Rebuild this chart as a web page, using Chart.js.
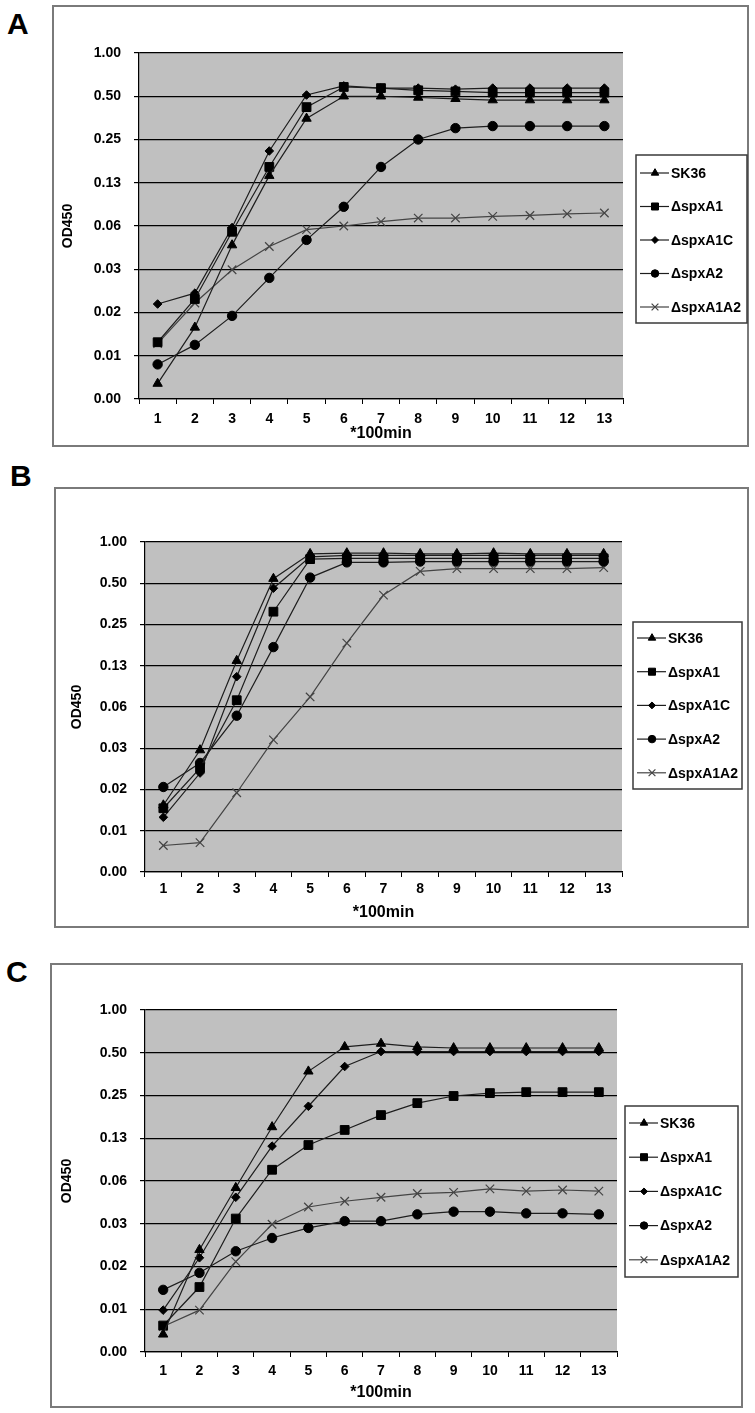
<!DOCTYPE html>
<html>
<head>
<meta charset="utf-8">
<script src="https://cdn.jsdelivr.net/npm/chart.js@4.4.1/dist/chart.umd.min.js"></script>
<style>
  body { margin: 0; background: #fff; width: 755px; height: 1413px; position: relative; overflow: hidden; }
  .letter { position: absolute; font: bold 30px "Liberation Sans", Arial, sans-serif; line-height: 30px; color: #000; }
  canvas { position: absolute; }
</style>
</head>
<body>
<div class="letter" style="left:7px;top:9px">A</div>
<div class="letter" style="left:10px;top:461px">B</div>
<div class="letter" style="left:6px;top:957px">C</div>
<canvas id="chartA" width="697" height="442" style="left:52px;top:5px;width:697px;height:442px"></canvas>
<canvas id="chartB" width="695" height="441" style="left:54px;top:487px;width:695px;height:441px"></canvas>
<canvas id="chartC" width="693" height="445" style="left:50px;top:963px;width:693px;height:445px"></canvas>
<script>
// time points (x100 min) and series names
var timePoints = ['1', '2', '3', '4', '5', '6', '7', '8', '9', '10', '11', '12', '13'];
var seriesNames = ['SK36', 'ΔspxA1', 'ΔspxA1C', 'ΔspxA2', 'ΔspxA1A2'];

// log2 y axis, labels as printed in the figure
var yTickValues = [1/256, 1/128, 1/64, 1/32, 1/16, 1/8, 1/4, 1/2, 1];
var yTickLabels = ['0.00', '0.01', '0.02', '0.03', '0.06', '0.13', '0.25', '0.50', '1.00'];

// panel A
var sk36A    = [0.0050, 0.0123, 0.046, 0.14, 0.35, 0.50, 0.50, 0.49, 0.48, 0.47, 0.47, 0.47, 0.47];
var spxA1A   = [0.0097, 0.0194, 0.057, 0.161, 0.42, 0.58, 0.57, 0.55, 0.54, 0.53, 0.53, 0.53, 0.53];
var spxA1CA  = [0.0179, 0.0213, 0.061, 0.208, 0.51, 0.59, 0.57, 0.57, 0.56, 0.57, 0.57, 0.57, 0.57];
var spxA2A   = [0.0068, 0.0093, 0.0148, 0.0272, 0.050, 0.085, 0.161, 0.25, 0.30, 0.31, 0.31, 0.31, 0.31];
var spxA1A2A = [0.0095, 0.0182, 0.031, 0.045, 0.059, 0.0625, 0.067, 0.071, 0.071, 0.073, 0.074, 0.076, 0.077];

// panel B
var sk36B    = [0.0120, 0.0303, 0.136, 0.54, 0.82, 0.83, 0.83, 0.82, 0.82, 0.83, 0.82, 0.82, 0.82];
var spxA1B   = [0.0114, 0.0224, 0.070, 0.31, 0.75, 0.76, 0.76, 0.76, 0.76, 0.76, 0.76, 0.76, 0.76];
var spxA1CB  = [0.0098, 0.0206, 0.104, 0.46, 0.78, 0.80, 0.80, 0.80, 0.80, 0.80, 0.80, 0.80, 0.80];
var spxA2B   = [0.0163, 0.0244, 0.054, 0.171, 0.55, 0.71, 0.71, 0.72, 0.72, 0.72, 0.72, 0.72, 0.72];
var spxA1A2B = [0.0061, 0.0064, 0.0148, 0.036, 0.074, 0.183, 0.41, 0.61, 0.64, 0.64, 0.64, 0.64, 0.65];

// panel C
var sk36C    = [0.0052, 0.0205, 0.056, 0.150, 0.37, 0.55, 0.58, 0.55, 0.54, 0.54, 0.54, 0.54, 0.54];
var spxA1C   = [0.0060, 0.0112, 0.034, 0.075, 0.112, 0.143, 0.182, 0.221, 0.248, 0.26, 0.264, 0.264, 0.264];
var spxA1CC  = [0.0077, 0.018, 0.048, 0.110, 0.21, 0.40, 0.51, 0.51, 0.51, 0.51, 0.51, 0.51, 0.51];
var spxA2C   = [0.0107, 0.0141, 0.020, 0.0248, 0.0292, 0.0326, 0.0326, 0.0364, 0.038, 0.038, 0.037, 0.037, 0.0364];
var spxA1A2C = [0.0059, 0.0077, 0.0169, 0.031, 0.041, 0.045, 0.048, 0.051, 0.052, 0.055, 0.053, 0.054, 0.053];

var markers = [
  { pointStyle: 'triangle', radius: 5.4, fill: '#000', line: '#1e1e1e', bw: 1 },
  { pointStyle: 'rect',     radius: 6.2, fill: '#000', line: '#1e1e1e', bw: 1 },
  { pointStyle: 'rectRot',  radius: 4.3, fill: '#000', line: '#1e1e1e', bw: 1 },
  { pointStyle: 'circle',   radius: 4.7, fill: '#000', line: '#1e1e1e', bw: 1 },
  { pointStyle: 'crossRot', radius: 6,   fill: '#444', line: '#444', bw: 1.2 }
];

var FONT = '"Liberation Sans", Arial, sans-serif';

function makeDatasets(seriesList) {
  return seriesList.map(function (values, i) {
    var m = markers[i];
    return {
      label: seriesNames[i],
      data: values,
      borderColor: m.line,
      borderWidth: 1.2,
      tension: 0,
      fill: false,
      pointStyle: m.pointStyle,
      pointRadius: m.radius,
      pointHoverRadius: m.radius,
      pointBackgroundColor: m.fill,
      pointBorderColor: m.fill,
      pointBorderWidth: m.bw
    };
  });
}

// grey plot area and outer frame
var backdrop = {
  id: 'backdrop',
  beforeDraw: function (chart) {
    var ctx = chart.ctx, a = chart.chartArea;
    ctx.save();
    ctx.fillStyle = '#fff';
    ctx.fillRect(0, 0, chart.width, chart.height);
    ctx.fillStyle = '#c0c0c0';
    ctx.fillRect(a.left, a.top, a.right - a.left, a.bottom - a.top);
    ctx.strokeStyle = '#7a7a7a';
    ctx.lineWidth = 2;
    ctx.strokeRect(1, 1, chart.width - 2, chart.height - 2);
    ctx.restore();
  }
};

function boxLegend(g) {
  return {
    id: 'boxLegend',
    afterDraw: function (chart) {
      var ctx = chart.ctx;
      ctx.save();
      ctx.fillStyle = '#fff';
      ctx.fillRect(g.x, g.y, g.w, g.h);
      ctx.strokeStyle = '#3a3a3a';
      ctx.lineWidth = 1.5;
      ctx.strokeRect(g.x, g.y, g.w, g.h);
      chart.data.datasets.forEach(function (ds, i) {
        var cy = g.y + g.first + i * g.step;
        ctx.strokeStyle = ds.borderColor;
        ctx.lineWidth = 1.2;
        ctx.beginPath();
        ctx.moveTo(g.x + 4, cy);
        ctx.lineTo(g.x + 33, cy);
        ctx.stroke();
        ctx.fillStyle = ds.pointBackgroundColor;
        ctx.strokeStyle = ds.pointBorderColor;
        ctx.lineWidth = ds.pointBorderWidth;
        Chart.helpers.drawPoint(ctx, {
          pointStyle: ds.pointStyle, radius: ds.pointRadius * 0.8,
          borderWidth: ds.pointBorderWidth, rotation: 0
        }, g.x + 19, cy);
        ctx.fillStyle = '#000';
        ctx.font = 'bold 14px ' + FONT;
        ctx.textBaseline = 'middle';
        ctx.textAlign = 'left';
        ctx.fillText(ds.label, g.x + 35, cy + 1);
      });
      ctx.restore();
    }
  };
}

function drawPanel(id, seriesList, geom) {
  return new Chart(id, {
    type: 'line',
    data: { labels: timePoints, datasets: makeDatasets(seriesList) },
    plugins: [backdrop, boxLegend(geom.legend)],
    options: {
      responsive: false,
      animation: false,
      layout: { padding: { top: geom.top, right: geom.right, left: 0, bottom: 0 } },
      plugins: { legend: { display: false }, tooltip: { enabled: false } },
      scales: {
        x: {
          type: 'category',
          offset: true,
          grid: { offset: true, drawOnChartArea: false, color: '#000', tickLength: 5 },
          border: { color: '#000', width: 1.2 },
          ticks: { color: '#000', font: { family: FONT, size: 14, weight: 'bold' }, padding: geom.xPad, maxRotation: 0 },
          title: { display: true, text: '*100min', color: '#000',
                   font: { family: FONT, size: 16, weight: 'bold' }, padding: { top: 0, bottom: geom.xTitlePad } },
          afterFit: function (s) { s.height = geom.xh; }
        },
        y: {
          type: 'logarithmic',
          min: yTickValues[0],
          max: yTickValues[yTickValues.length - 1],
          afterBuildTicks: function (s) {
            s.ticks = yTickValues.map(function (v) { return { value: v }; });
          },
          grid: { color: '#000', lineWidth: 1.2, tickLength: 5 },
          border: { color: '#000', width: 1.2 },
          ticks: {
            autoSkip: false,
            color: '#000',
            padding: 13,
            font: { family: FONT, size: 14, weight: 'bold' },
            callback: function (v, i) { return yTickLabels[i]; }
          },
          title: { display: true, text: 'OD450', color: '#000',
                   font: { family: FONT, size: 14, weight: 'bold' }, padding: { top: geom.yTitlePad, bottom: 0 } },
          afterFit: function (s) { s.width = geom.yw; }
        }
      }
    }
  });
}

drawPanel('chartA', [sk36A, spxA1A, spxA1CA, spxA2A, spxA1A2A], {
  top: 48, right: 126, yw: 87, xh: 48, xPad: 7, xTitlePad: 4, yTitlePad: 7.6,
  legend: { x: 584, y: 150, w: 111, h: 168, first: 18, step: 33.5 }
});
drawPanel('chartB', [sk36B, spxA1B, spxA1CB, spxA2B, spxA1A2B], {
  top: 55, right: 127, yw: 91, xh: 56, xPad: 4, xTitlePad: 5.6, yTitlePad: 14.6,
  legend: { x: 579, y: 135, w: 109, h: 167, first: 16, step: 33.7 }
});
drawPanel('chartC', [sk36C, spxA1C, spxA1CC, spxA2C, spxA1A2C], {
  top: 47, right: 126, yw: 95, xh: 56, xPad: 6, xTitlePad: 5.6, yTitlePad: 8.6,
  legend: { x: 575, y: 143, w: 113, h: 171, first: 17, step: 34.2 }
});
</script>
</body>
</html>
